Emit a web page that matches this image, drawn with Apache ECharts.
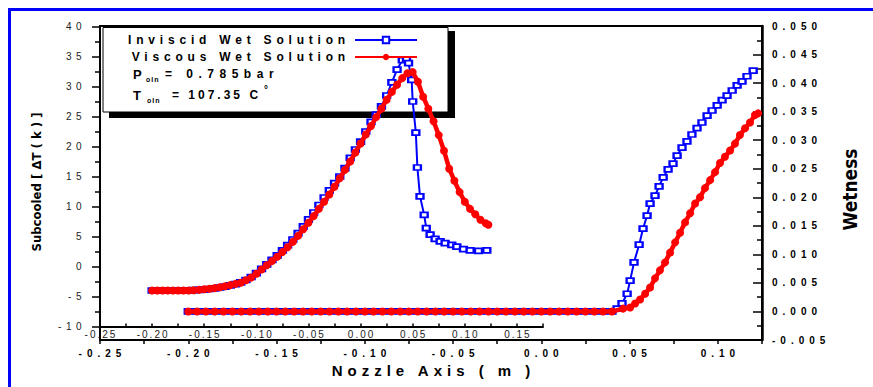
<!DOCTYPE html>
<html><head><meta charset="utf-8">
<script src="https://cdn.jsdelivr.net/npm/echarts@6/dist/echarts.min.js"></script>
<style>
html,body{margin:0;padding:0;background:#fff}
#c{width:873px;height:387px}
text[style*="spA"]{letter-spacing:4.8px}
text[style*="spB"]{letter-spacing:5px}
text[style*="spC"]{letter-spacing:4.5px}
text[style*="spD"]{letter-spacing:2px}
text[style*="spE"]{letter-spacing:1px}
text[style*="spF"]{letter-spacing:5.5px}
text[style*="spG"]{letter-spacing:3px}
</style></head><body><div id="c"></div><script>
// ---- data ----
// Subcooled curves (inner x axis, left y axis)
const invSubcooled = [[-0.200,-4.0],[-0.195,-4.0],[-0.190,-4.0],[-0.185,-4.0],[-0.180,-4.0],[-0.175,-4.0],[-0.170,-4.0],[-0.165,-4.0],[-0.160,-3.95],[-0.155,-3.9],[-0.150,-3.85],[-0.145,-3.75],[-0.140,-3.65],[-0.135,-3.5],[-0.130,-3.35],[-0.125,-3.15],[-0.120,-2.95],[-0.115,-2.65],[-0.110,-2.25],[-0.105,-1.75],[-0.100,-1.1],[-0.095,-0.4],[-0.090,0.35],[-0.085,1.1],[-0.080,1.85],[-0.075,2.7],[-0.070,3.55],[-0.065,4.5],[-0.060,5.55],[-0.055,6.7],[-0.050,7.85],[-0.045,9.0],[-0.040,10.25],[-0.035,11.5],[-0.030,12.7],[-0.025,13.9],[-0.020,15.0],[-0.015,16.4],[-0.010,18.1],[-0.005,19.5],[0.000,20.8],[0.005,22.5],[0.010,24.1],[0.015,25.3],[0.020,26.7],[0.025,28.5],[0.030,30.7],[0.035,32.8],[0.040,34.4],[0.044,34.5],[0.046,33.9],[0.049,31.1],[0.050,27.5],[0.053,22.3],[0.0545,16.5],[0.057,11.7],[0.061,8.6],[0.063,6.4],[0.0667,5.3],[0.0715,4.6],[0.0763,4.2],[0.0811,3.9],[0.0875,3.6],[0.0923,3.3],[0.0987,2.9],[0.1051,2.7],[0.1131,2.6],[0.1211,2.7]];
const visSubcooled = [[-0.200,-4.0],[-0.195,-4.0],[-0.190,-4.0],[-0.185,-4.0],[-0.180,-4.0],[-0.175,-4.0],[-0.170,-4.0],[-0.165,-4.0],[-0.160,-3.95],[-0.155,-3.9],[-0.150,-3.8],[-0.145,-3.7],[-0.140,-3.6],[-0.135,-3.45],[-0.130,-3.3],[-0.125,-3.1],[-0.120,-2.9],[-0.115,-2.7],[-0.110,-2.3],[-0.105,-1.85],[-0.100,-1.2],[-0.095,-0.5],[-0.090,0.2],[-0.085,0.9],[-0.080,1.6],[-0.075,2.4],[-0.070,3.2],[-0.065,4.1],[-0.060,5.1],[-0.055,6.2],[-0.050,7.3],[-0.045,8.4],[-0.040,9.6],[-0.035,10.8],[-0.030,12.0],[-0.025,13.3],[-0.020,14.7],[-0.015,16.1],[-0.010,17.5],[-0.005,19.0],[0.000,20.5],[0.005,22.0],[0.010,23.4],[0.015,24.9],[0.020,26.3],[0.025,27.8],[0.030,29.1],[0.035,30.3],[0.040,31.4],[0.045,32.2],[0.050,32.4],[0.055,30.8],[0.060,28.3],[0.065,26.3],[0.070,24.2],[0.075,21.9],[0.080,19.3],[0.085,16.3],[0.090,14.3],[0.095,12.4],[0.100,10.8],[0.105,9.6],[0.110,8.7],[0.115,7.8],[0.120,7.2],[0.1226,6.95]];
// Wetness curves (outer x axis, right y axis)
const invWetness = [[-0.200,0],[-0.195,0],[-0.190,0],[-0.185,0],[-0.180,0],[-0.175,0],[-0.170,0],[-0.165,0],[-0.160,0],[-0.155,0],[-0.150,0],[-0.145,0],[-0.140,0],[-0.135,0],[-0.130,0],[-0.125,0],[-0.120,0],[-0.115,0],[-0.110,0],[-0.105,0],[-0.100,0],[-0.095,0],[-0.090,0],[-0.085,0],[-0.080,0],[-0.075,0],[-0.070,0],[-0.065,0],[-0.060,0],[-0.055,0],[-0.050,0],[-0.045,0],[-0.040,0],[-0.035,0],[-0.030,0],[-0.025,0],[-0.020,0],[-0.015,0],[-0.010,0],[-0.005,0],[0.000,0],[0.005,0],[0.010,0],[0.015,0],[0.020,0],[0.025,0],[0.030,0],[0.035,0],[0.040,0],[0.0429,0.0005],[0.0457,0.0014],[0.0486,0.0031],[0.0503,0.0054],[0.0525,0.0086],[0.0554,0.0117],[0.0576,0.0145],[0.0599,0.0168],[0.0616,0.0189],[0.0644,0.0203],[0.0667,0.0219],[0.0690,0.0235],[0.0718,0.0249],[0.0746,0.0259],[0.0769,0.0273],[0.0797,0.0287],[0.0825,0.0298],[0.0853,0.0310],[0.0882,0.0321],[0.0910,0.0331],[0.0939,0.0343],[0.0967,0.0352],[0.0996,0.0361],[0.1024,0.0370],[0.1052,0.0378],[0.1081,0.0387],[0.1109,0.0396],[0.1137,0.0403],[0.1165,0.0412],[0.1200,0.0422]];
const visWetness = [[-0.200,0],[-0.195,0],[-0.190,0],[-0.185,0],[-0.180,0],[-0.175,0],[-0.170,0],[-0.165,0],[-0.160,0],[-0.155,0],[-0.150,0],[-0.145,0],[-0.140,0],[-0.135,0],[-0.130,0],[-0.125,0],[-0.120,0],[-0.115,0],[-0.110,0],[-0.105,0],[-0.100,0],[-0.095,0],[-0.090,0],[-0.085,0],[-0.080,0],[-0.075,0],[-0.070,0],[-0.065,0],[-0.060,0],[-0.055,0],[-0.050,0],[-0.045,0],[-0.040,0],[-0.035,0],[-0.030,0],[-0.025,0],[-0.020,0],[-0.015,0],[-0.010,0],[-0.005,0],[0.000,0],[0.005,0],[0.010,0],[0.015,0],[0.020,0],[0.025,0],[0.030,0],[0.035,0],[0.040,0],[0.0463,0.0005],[0.0503,0.0007],[0.0531,0.0014],[0.0559,0.0021],[0.0588,0.0031],[0.0616,0.0042],[0.0644,0.0058],[0.0672,0.0072],[0.0701,0.0086],[0.0729,0.0103],[0.0758,0.0121],[0.0786,0.0138],[0.0814,0.0156],[0.0843,0.0172],[0.0871,0.0189],[0.0899,0.0200],[0.0927,0.0216],[0.0956,0.0230],[0.0984,0.0244],[0.1012,0.0260],[0.1040,0.0271],[0.1069,0.0282],[0.1097,0.0294],[0.1125,0.0309],[0.1154,0.0321],[0.1182,0.0331],[0.1210,0.0344],[0.1228,0.0347]];
const seriesNames = ['Inviscid Wet Solution', 'Viscous Wet Solution'];
const pressureLine = ['P', 'oln', '= 0.785bar'];
const tempLine = ['T', 'oln', '= 107.35 C', '°'];
const innerX = {min: -0.25, max: 0.175, step: 0.025};
const outerX = {min: -0.25, max: 0.125, step: 0.025};
const subY = {min: -10, max: 40, step: 5};
const wetY = {min: -0.005, max: 0.05, step: 0.005};

// ---- chart ----
const FA = 'spA, Liberation Sans, Arial, sans-serif';
const FB = 'spB, Liberation Sans, Arial, sans-serif';
const FC = 'spC, Liberation Sans, Arial, sans-serif';
const FD = 'spD, Liberation Sans, Arial, sans-serif';
const FE = 'spE, Liberation Sans, Arial, sans-serif';
const FF = 'spF, Liberation Sans, Arial, sans-serif';
const FG = 'spG, Liberation Sans, Arial, sans-serif';
const NARROW = 'Liberation Sans Narrow, DejaVu Sans Condensed, sans-serif';
const BLUE = '#0000ff', RED = '#ff0000';
function fmtX(v){ const k = Math.round(v/0.025); return (k % 2 === 0) ? v.toFixed(2) : ''; }

const chart = echarts.init(document.getElementById('c'), null, {renderer: 'svg'});
const tickStyle = {color: '#000', width: 1.5};
chart.setOption({
  backgroundColor: '#fff',
  animation: false,
  grid: [
    {left: 100, top: 26.5, width: 443, height: 300, show: false},
    {left: 100, top: 26, width: 662, height: 314, show: true, borderColor: '#000', borderWidth: 2, backgroundColor: 'transparent'}
  ],
  xAxis: [
    {gridIndex: 0, type: 'value', min: innerX.min, max: innerX.max, interval: innerX.step, position: 'bottom',
      axisLine: {onZero: false, lineStyle: {color: '#000', width: 2}},
      axisTick: {inside: true, length: 3, lineStyle: tickStyle},
      axisLabel: {margin: 3, fontSize: 10, fontFamily: FD, color: '#222', formatter: fmtX, padding: [0,0,0,2]},
      splitLine: {show: false}},
    {gridIndex: 1, type: 'value', min: outerX.min, max: outerX.max, interval: outerX.step, position: 'bottom',
      axisLine: {onZero: false, lineStyle: {color: '#000', width: 2}},
      axisTick: {length: 4, lineStyle: tickStyle},
      axisLabel: {margin: 8, fontSize: 10, fontWeight: 'bold', fontFamily: FB, color: '#000', formatter: fmtX, padding: [0,0,0,5]},
      name: 'Nozzle Axis ( m )', nameLocation: 'middle', nameGap: 22,
      nameTextStyle: {fontSize: 15, fontWeight: 'bold', fontFamily: FB, color: '#000', padding: [0,0,0,5]},
      splitLine: {show: false}}
  ],
  yAxis: [
    {gridIndex: 0, type: 'value', min: subY.min, max: subY.max, interval: subY.step, position: 'left',
      axisLine: {show: true, onZero: false, lineStyle: {color: '#000', width: 2}},
      axisTick: {show: true, length: 8, lineStyle: tickStyle},
      minorTick: {show: true, splitNumber: 2, length: 5, lineStyle: tickStyle},
      axisLabel: {margin: 14, fontSize: 10, fontFamily: FC, color: '#222'},
      name: 'Subcooled [ ΔT ( k ) ]', nameLocation: 'middle', nameGap: 57, nameRotate: 90,
      nameTextStyle: {fontSize: 13, fontWeight: 'bold', fontFamily: NARROW, color: '#000', padding: [0,11,0,0]},
      splitLine: {show: false}},
    {gridIndex: 1, type: 'value', min: wetY.min, max: wetY.max, interval: wetY.step, position: 'right',
      axisLine: {show: true, onZero: false, lineStyle: {color: '#000', width: 2.5}},
      axisTick: {show: true, inside: true, length: 9, lineStyle: tickStyle},
      minorTick: {show: true, splitNumber: 2, length: 5, lineStyle: tickStyle},
      axisLabel: {margin: 10, fontSize: 10, fontWeight: 'bold', fontFamily: FB, color: '#000', formatter: v => v.toFixed(3)},
      name: 'Wetness', nameLocation: 'middle', nameGap: 78, nameRotate: 90,
      nameTextStyle: {fontSize: 19, fontWeight: 'bold', fontFamily: NARROW, color: '#000', padding: [0,13,0,0]},
      splitLine: {show: false}}
  ],
  legend: {orient: 'vertical', left: 128, top: 33, padding: 0, align: 'right', itemWidth: 62, itemHeight: 8, itemGap: 3,
    selectedMode: false, data: seriesNames,
    textStyle: {fontFamily: FA, fontSize: 12, fontWeight: 'bold', color: '#000', width: 222, lineHeight: 14}},
  graphic: {elements: [
    {type: 'rect', z: 0, shape: {x: 8, y: 8, width: 865, height: 3}, style: {fill: BLUE}},
    {type: 'rect', z: 0, shape: {x: 8, y: 8, width: 3, height: 379}, style: {fill: BLUE}},
    {type: 'rect', z: 0, shape: {x: 109, y: 31, width: 346, height: 87}, style: {fill: '#000'}},
    {type: 'rect', z: 1, shape: {x: 103, y: 27.5, width: 345, height: 84.5}, style: {fill: '#fff', stroke: '#000', lineWidth: 1}},
    {type: 'text', z: 10, x: 133, y: 74, style: {text: pressureLine[0], fontSize: 13, fontWeight: 'bold', fontFamily: FG, fill: '#000', verticalAlign: 'middle'}},
    {type: 'text', z: 10, x: 146, y: 79, style: {text: pressureLine[1], fontSize: 7, fontWeight: 'bold', fontFamily: FE, fill: '#000', verticalAlign: 'middle'}},
    {type: 'text', z: 10, x: 165, y: 74, style: {text: pressureLine[2], fontSize: 12, fontWeight: 'bold', fontFamily: FF, fill: '#000', verticalAlign: 'middle'}},
    {type: 'text', z: 10, x: 133, y: 95, style: {text: tempLine[0], fontSize: 13, fontWeight: 'bold', fontFamily: FG, fill: '#000', verticalAlign: 'middle'}},
    {type: 'text', z: 10, x: 147, y: 100, style: {text: tempLine[1], fontSize: 7, fontWeight: 'bold', fontFamily: FE, fill: '#000', verticalAlign: 'middle'}},
    {type: 'text', z: 10, x: 172, y: 95, style: {text: tempLine[2], fontSize: 12, fontWeight: 'bold', fontFamily: FG, fill: '#000', verticalAlign: 'middle'}},
    {type: 'text', z: 10, x: 264, y: 89, style: {text: tempLine[3], fontSize: 10, fontWeight: 'bold', fontFamily: FG, fill: '#000', verticalAlign: 'middle'}}
  ]},
  series: [
    {type: 'line', name: seriesNames[0], xAxisIndex: 0, yAxisIndex: 0, data: invSubcooled, z: 2,
      symbol: 'emptyRect', symbolSize: [7,5], lineStyle: {color: BLUE, width: 2}, itemStyle: {color: BLUE, borderWidth: 1.2}},
    {type: 'line', name: seriesNames[1], xAxisIndex: 0, yAxisIndex: 0, data: visSubcooled, z: 3,
      symbol: 'circle', symbolSize: 8, lineStyle: {color: RED, width: 4.5}, itemStyle: {color: RED}},
    {type: 'line', name: seriesNames[0], xAxisIndex: 1, yAxisIndex: 1, data: invWetness, z: 2,
      symbol: 'emptyRect', symbolSize: [7,5], lineStyle: {color: BLUE, width: 2}, itemStyle: {color: BLUE, borderWidth: 1.2}},
    {type: 'line', name: seriesNames[1], xAxisIndex: 1, yAxisIndex: 1, data: visWetness, z: 3,
      symbol: 'circle', symbolSize: 8, lineStyle: {color: RED, width: 4.5}, itemStyle: {color: RED}}
  ]
});
</script></body></html>
